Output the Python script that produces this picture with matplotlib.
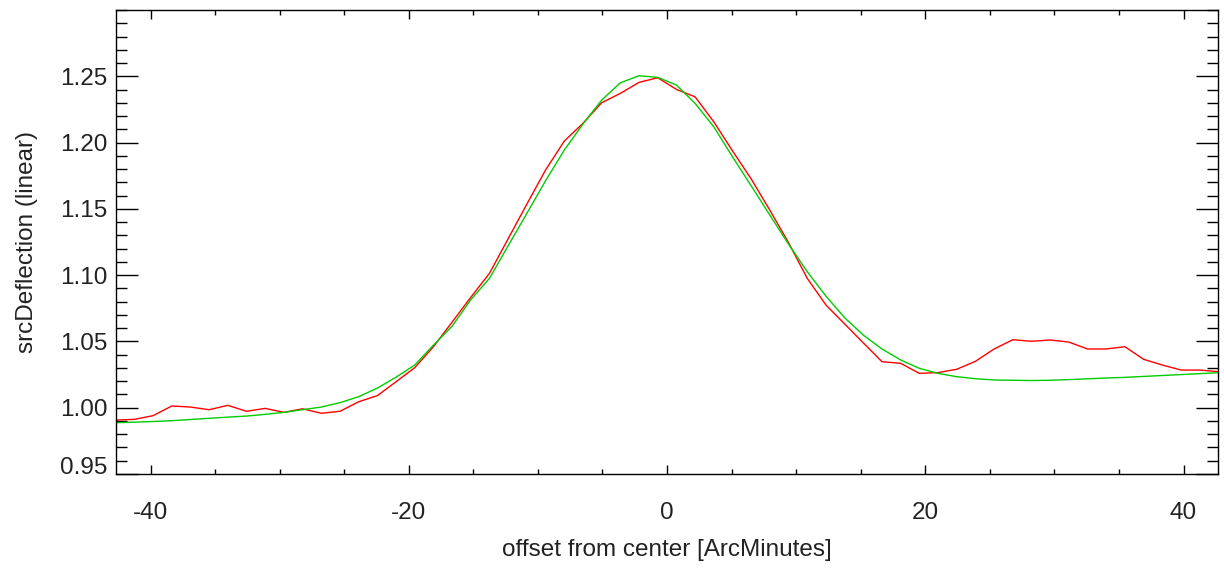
import matplotlib
matplotlib.use('Agg')
import matplotlib.pyplot as plt
import numpy as np
from matplotlib.ticker import MultipleLocator, FixedLocator, FormatStrFormatter

plt.rcParams['font.family'] = ['Liberation Sans', 'DejaVu Sans']
plt.rcParams['axes.unicode_minus'] = False

# sample positions (arcminutes), 60 evenly spaced samples across the scan
x_start, x_end, n_samples = -42.7, 42.7, 60
offset = np.linspace(x_start, x_end, n_samples)

# measured source deflection (red)
measured = [0.9907, 0.9912, 0.9940, 1.0013, 1.0005, 0.9985, 1.0018, 0.9973, 0.9995, 0.9965,
            0.9992, 0.9958, 0.9973, 1.0045, 1.0091, 1.0196, 1.0302, 1.0460, 1.0646, 1.0833,
            1.1014, 1.1275, 1.1536, 1.1793, 1.2011, 1.2145, 1.2300, 1.2371, 1.2454, 1.2489,
            1.2401, 1.2345, 1.2157, 1.1938, 1.1726, 1.1490, 1.1245, 1.0976, 1.0775, 1.0632,
            1.0489, 1.0347, 1.0335, 1.0259, 1.0265, 1.0290, 1.0350, 1.0443, 1.0513, 1.0501,
            1.0511, 1.0495, 1.0443, 1.0443, 1.0460, 1.0365, 1.0322, 1.0284, 1.0284, 1.0272]

# fitted model (green)
model = [0.9887, 0.9891, 0.9896, 0.9902, 0.9911, 0.9920, 0.9929, 0.9937, 0.9950, 0.9965,
         0.9985, 1.0005, 1.0038, 1.0083, 1.0148, 1.0230, 1.0322, 1.0472, 1.0615, 1.0815,
         1.0976, 1.1222, 1.1466, 1.1712, 1.1943, 1.2140, 1.2320, 1.2451, 1.2504, 1.2492,
         1.2434, 1.2296, 1.2119, 1.1893, 1.1674, 1.1453, 1.1234, 1.1026, 1.0842, 1.0679,
         1.0548, 1.0443, 1.0360, 1.0297, 1.0259, 1.0234, 1.0219, 1.0209, 1.0207, 1.0205,
         1.0207, 1.0212, 1.0218, 1.0224, 1.0229, 1.0236, 1.0243, 1.0250, 1.0257, 1.0264]

x_ticks = [-40, -20, 0, 20, 40]
y_ticks = [0.95, 1.00, 1.05, 1.10, 1.15, 1.20, 1.25]

W, H = 1224, 568
fig = plt.figure(figsize=(W / 100, H / 100), dpi=100)
ax = fig.add_axes([115.7 / W, 1 - 474 / H, (1218.4 - 115.7) / W, 464 / H])

ax.plot(offset, measured, color='#ff0000', lw=1.0)
ax.plot(offset, model, color='#00cc00', lw=1.0)

ax.set_xlim(x_start, x_end)
ax.set_ylim(0.95, 1.30)

ax.xaxis.set_major_locator(FixedLocator(x_ticks))
ax.xaxis.set_minor_locator(MultipleLocator(5))
ax.yaxis.set_major_locator(FixedLocator(y_ticks))
ax.yaxis.set_minor_locator(MultipleLocator(0.01))
ax.yaxis.set_major_formatter(FormatStrFormatter('%.2f'))

fs = 17.5
ax.tick_params(which='both', direction='in', top=True, right=True, color='black', width=1.0,
               labelsize=fs, labelcolor='#222222')
ax.tick_params(axis='x', which='major', length=6.7, pad=20)
ax.tick_params(axis='x', which='minor', length=3.4)
ax.tick_params(axis='y', which='major', length=15.9, pad=6)
ax.tick_params(axis='y', which='minor', length=7.9)

for s in ax.spines.values():
    s.set_linewidth(1.0)

ax.set_xlabel('offset from center [ArcMinutes]', fontsize=fs, color='#222222', labelpad=11)
ax.set_ylabel('srcDeflection (linear)', fontsize=fs, color='#222222', labelpad=16)

fig.canvas.draw()
for lb in ax.get_yticklabels():
    if lb.get_text() == '0.95':
        lb.set_verticalalignment('baseline')

fig.savefig('out.png', dpi=100)
